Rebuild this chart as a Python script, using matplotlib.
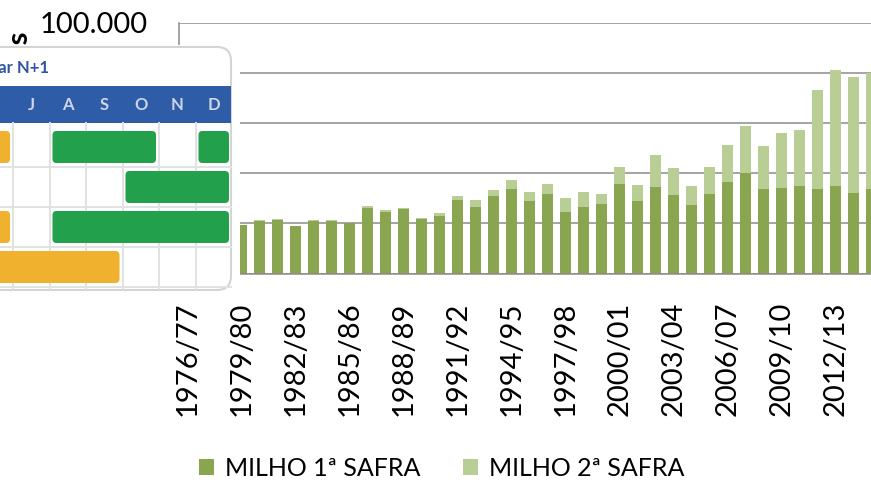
import matplotlib
matplotlib.use('Agg')
import matplotlib.pyplot as plt
import numpy as np
from matplotlib.patches import Rectangle, FancyBboxPatch

plt.rcParams['font.family'] = ['Lato', 'DejaVu Sans']

# Produção de milho (mil toneladas) por safra
safras = ['1976/77', '1977/78', '1978/79', '1979/80', '1980/81', '1981/82',
          '1982/83', '1983/84', '1984/85', '1985/86', '1986/87', '1987/88',
          '1988/89', '1989/90', '1990/91', '1991/92', '1992/93', '1993/94',
          '1994/95', '1995/96', '1996/97', '1997/98', '1998/99', '1999/00',
          '2000/01', '2001/02', '2002/03', '2003/04', '2004/05', '2005/06',
          '2006/07', '2007/08', '2008/09', '2009/10', '2010/11', '2011/12',
          '2012/13', '2013/14', '2014/15']
primeira = [19300, 13600, 16300, 19300, 20900, 21300, 19000, 20900, 20900, 20100,
            26200, 24700, 25800, 21900, 23000, 29100, 26600, 30800, 33700, 29000,
            31700, 24400, 26600, 27800, 35700, 29000, 34400, 31300, 27100, 31700,
            36500, 40000, 33600, 34000, 34900, 33700, 34700, 32100, 33500]
segunda = [0, 0, 0, 0, 300, 300, 0, 300, 300, 200,
           500, 500, 400, 300, 1000, 1600, 2600, 2400, 3600, 3400,
           3900, 5600, 5700, 3800, 6600, 6200, 12900, 10700, 7800, 10700,
           14800, 18600, 17300, 21900, 22400, 39300, 46200, 46200, 46500]
yticks = [0, 20000, 40000, 60000, 80000, 100000]

# calendar picture laid over the left part (months Jan=0 .. Dec=11)
meses = ['J', 'J', 'A', 'S', 'O', 'N', 'D']
cal_rows = [
    [(3, 6, 'orange'), (7, 10, 'green'), (11, 12, 'green')],
    [(9, 12, 'green')],
    [(3, 6, 'orange'), (7, 12, 'green')],
    [(3, 9, 'orange')],
]

C1 = '#8AA54F'
C2 = '#B9CE95'
GRID = '#8C8C8C'

W, H = 871, 480
fig = plt.figure(figsize=(W / 100, H / 100), dpi=100)
ax = fig.add_axes([178.7 / W, 1 - 273.5 / H, len(safras) * 18 / W, 251 / H])

x = np.arange(len(safras))
ax.bar(x, primeira, width=0.63, color=C1, label='MILHO 1ª SAFRA', zorder=2)
ax.bar(x, segunda, width=0.63, bottom=primeira, color=C2,
       label='MILHO 2ª SAFRA', zorder=2)

ax.set_xlim(-0.5, len(safras) - 0.5)
ax.set_ylim(0, 100000)
ax.set_yticks(yticks)
ax.set_yticklabels([f'{v:,}'.replace(',', '.') for v in yticks])
ax.set_xticks(x[::3])
ax.set_xticklabels(safras[::3], rotation=90)
ax.tick_params(axis='x', length=0, pad=20, labelsize=21)
ax.tick_params(axis='y', length=0, pad=22, labelsize=21)
ax.yaxis.grid(True, color=GRID, linewidth=1.1, zorder=0)
ax.set_axisbelow(True)
for side in ['top', 'right']:
    ax.spines[side].set_visible(False)
for side in ['left', 'bottom']:
    ax.spines[side].set_color(GRID)
    ax.spines[side].set_linewidth(1.1)

fig.text(20 / W, 1 - 32 / H, 'Mil toneladas', rotation=90, ha='center',
         va='top', fontsize=21, weight='bold')

handles, labels = ax.get_legend_handles_labels()
fig.legend(handles, labels, loc='center', bbox_to_anchor=(441.5 / W, 1 - 468 / H),
           ncol=2, frameon=False, fontsize=18, handlelength=0.6,
           handleheight=0.6, handletextpad=0.45, columnspacing=1.7, borderpad=0)

# overlaid calendar, drawn in pixel coordinates
cal = fig.add_axes([0, 1 - 292 / H, 240 / W, 247 / H], zorder=10)
cal.set_xlim(0, 240)
cal.set_ylim(292, 45)
cal.axis('off')
cal.add_patch(Rectangle((0, 45), 240, 247, facecolor='white', edgecolor='none'))
cal.add_patch(FancyBboxPatch((-30, 47), 261, 243, boxstyle='round,pad=0,rounding_size=14',
                             facecolor='white', edgecolor='#D4D4D4', linewidth=1.5))
cal.text(49, 68, 'Calendar N+1', ha='right', va='center', fontsize=12,
         weight='bold', color='#2F55A0')
cal.add_patch(Rectangle((0, 86), 231, 37, facecolor='#2E5CA6', edgecolor='none'))
col_w = 36.5


def col_x(m):
    return 13 + (m - 6) * col_w


for i, letra in enumerate(meses):
    cal.text(col_x(5 + i) + col_w / 2, 104.5, letra, ha='center', va='center',
             fontsize=12, weight='bold', color='#CDD6E8')
for k in range(6):
    cal.plot([col_x(6 + k)] * 2, [123, 289], color='#E2E2E2', lw=1.4, zorder=1)
for r in range(4):
    cal.plot([0, 231], [167 + 40 * r] * 2, color='#E2E2E2', lw=1.4, zorder=1)

cores = {'orange': '#EFB12E', 'green': '#22A04B'}
for r, spans in enumerate(cal_rows):
    y0 = 131 + 40 * r
    for m0, m1, c in spans:
        x0 = col_x(m0) + 3
        x1 = col_x(m1) - 3
        cal.add_patch(FancyBboxPatch((x0, y0), x1 - x0, 32,
                                     boxstyle='round,pad=0,rounding_size=4',
                                     facecolor=cores[c], edgecolor='none',
                                     zorder=3))

fig.savefig('out.png', dpi=100)
